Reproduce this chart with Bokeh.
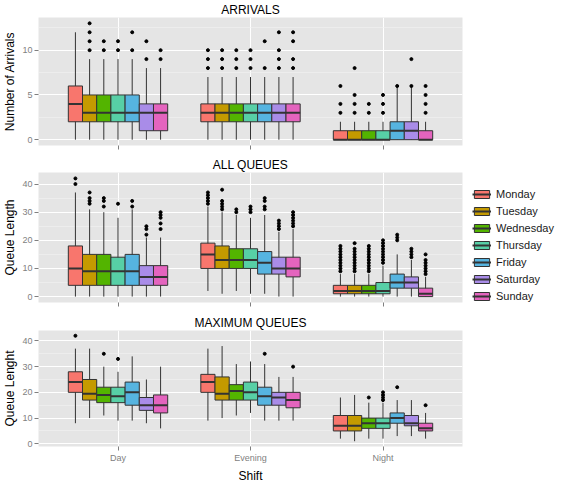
from bokeh.plotting import figure
from bokeh.models import (ColumnDataSource, FactorRange, Range1d, FixedTicker,
                          Legend, LegendItem)
from bokeh.transform import dodge
from bokeh.layouts import column
from bokeh.embed import file_html
from bokeh.resources import INLINE

SHIFTS = ["Day", "Evening", "Night"]
DAYS = ["Monday", "Tuesday", "Wednesday", "Thursday", "Friday", "Saturday", "Sunday"]
COLORS = ["#F8766D", "#C49A00", "#53B400", "#57CFA6", "#56B4E0", "#A98CE8", "#E464BE"]

# ---- ARRIVALS (rows: Day, Evening, Night; columns: Monday..Sunday)
arr_lo = [[0, 0, 0, 0, 0, 0, 0], [0, 0, 0, 0, 0, 0, 0], [0, 0, 0, 0, 0, 0, 0]]
arr_q1 = [[2, 2, 2, 2, 2, 1, 1], [2, 2, 2, 2, 2, 2, 2], [0, 0, 0, 0, 0, 0, 0]]
arr_med = [[4, 3, 3, 3, 3, 3, 3], [3, 3, 3, 3, 3, 3, 3], [0, 0, 0, 0, 1, 1, 0]]
arr_q3 = [[6, 5, 5, 5, 5, 4, 4], [4, 4, 4, 4, 4, 4, 4], [1, 1, 1, 1, 2, 2, 1]]
arr_hi = [[12, 9, 9, 9, 9, 8, 8], [7, 7, 7, 7, 7, 7, 7], [2, 2, 2, 2, 6, 6, 2]]
arr_out = [
    [[], [10, 11, 12, 13], [10, 11], [10, 11], [10, 12], [9, 11], [9, 10]],
    [[8, 9, 10], [8, 9, 10], [8, 9, 10], [8, 9, 10], [8, 11], [8, 9, 10, 12], [8, 9, 11, 12]],
    [[3, 4, 6], [3, 4, 5, 8], [3, 4], [3, 4, 5], [6], [6, 9], [3, 4, 5, 6]],
]

# ---- ALL QUEUES
allq_lo = [[0, 0, 0, 0, 0, 0, 0], [2, 1, 2, 1, 1, 0, 0], [0, 0, 0, 0, 0, 0, 0]]
allq_q1 = [[4, 4, 4, 4, 4, 4, 4], [10, 10, 10, 10, 8, 8, 7], [1, 1, 1, 1, 3, 3, 0]]
allq_med = [[10, 9, 9, 9, 9, 7, 7], [15, 13, 13, 13, 12, 10, 10], [2, 2, 2, 2, 5, 5, 1]]
allq_q3 = [[18, 15, 15, 14, 15, 11, 11], [19, 18, 17, 17, 16, 14, 14], [4, 4, 4, 5, 8, 7, 3]]
allq_hi = [[37, 31, 30, 28, 31, 21, 21], [32, 30, 29, 28, 29, 23, 24], [8, 8, 8, 11, 15, 13, 7]]
allq_out = [
    [[40, 42], [33, 34, 35, 37], [32, 34, 35], [33], [32, 34], [22, 24, 25], [24, 26, 28, 29, 30]],
    [[33, 34, 35, 36, 37], [31, 32, 33, 34, 38], [30, 31], [30, 31, 32], [31, 32, 34, 35],
     [24, 25, 26, 27], [25, 26, 27, 28, 29, 30]],
    [[9, 10, 11, 12, 13, 14, 15, 16, 17, 18], [9, 10, 11, 12, 13, 14, 15, 16, 17, 19],
     [9, 10, 11, 12, 13, 14, 15, 16, 17, 18], [12, 13, 14, 15, 16, 17, 18, 19, 20],
     [20, 21, 22], [14, 15, 16, 17], [8, 9, 10, 11, 12, 13, 15]],
]

# ---- MAXIMUM QUEUES
maxq_lo = [[8, 10, 11, 9, 9, 8, 6], [9, 10, 11, 12, 9, 9, 9], [2, 1, 2, 2, 3, 3, 2]]
maxq_q1 = [[20, 17, 16, 16, 15, 13, 12], [20, 17, 17, 17, 15, 15, 14], [5, 5, 6, 6, 8, 7, 5]]
maxq_med = [[24, 19.5, 19, 18.5, 20, 15, 15], [24, 19.5, 20.5, 20, 18.5, 18, 17], [7, 7, 8, 8, 10, 8, 6]]
maxq_q3 = [[28, 25, 22, 22, 24, 18, 19], [27, 26, 23, 24, 22, 20, 20], [11, 11, 10, 10, 12, 11, 8]]
maxq_hi = [[37, 37, 30, 28, 34, 25, 30], [37, 38, 31, 32, 31, 26, 26], [18, 19, 16, 16, 17, 17, 12]]
maxq_out = [
    [[42], [], [35], [33], [], [], []],
    [[], [], [], [], [35], [], [30]],
    [[], [], [18], [17, 18, 19, 20], [22], [], [15]],
]

FONT = "Liberation Sans"
TICK_GREY = "#7F7F7F"
EDGE = "#333333"
BOX_W = 0.75 / len(DAYS)


def make_panel(title, ylabel, lo, q1, med, q3, hi, out, yrange, yticks, yminor,
               frame_h, bottom_gap=0, show_x=False, with_legend=False):
    p = figure(x_range=FactorRange(factors=SHIFTS, range_padding=0.1,
                                   range_padding_units="absolute"),
               y_range=Range1d(*yrange), frame_width=424, frame_height=frame_h,
               output_backend="svg", toolbar_location=None,
               min_border_left=30, min_border_right=4, min_border_top=0,
               min_border_bottom=bottom_gap)
    p.background_fill_color = "#E5E5E5"
    p.border_fill_color = "white"
    p.outline_line_color = None

    p.title.text = title
    p.title.align = "center"
    p.title.text_font = FONT
    p.title.text_font_size = "12px"
    p.title.text_font_style = "normal"
    p.title.text_color = "black"
    p.title.standoff = 1

    yt = FixedTicker(ticks=yticks, minor_ticks=yminor)
    p.yaxis.ticker = yt
    p.ygrid.ticker = yt
    p.ygrid.grid_line_color = "white"
    p.ygrid.grid_line_width = 1
    p.ygrid.minor_grid_line_color = "#F2F2F2"
    p.ygrid.minor_grid_line_width = 0.6
    p.xgrid.grid_line_color = "white"
    p.xgrid.grid_line_width = 1

    for ax in (p.xaxis[0], p.yaxis[0]):
        ax.axis_line_color = None
        ax.major_tick_line_color = TICK_GREY
        ax.major_tick_out = 4
        ax.major_tick_in = 0
        ax.minor_tick_line_color = None
        ax.major_label_text_color = TICK_GREY
        ax.major_label_text_font = FONT
        ax.major_label_text_font_size = "9px"
        ax.major_label_standoff = 2
        ax.axis_label_text_font = FONT
        ax.axis_label_text_font_size = "12px"
        ax.axis_label_text_font_style = "normal"
        ax.axis_label_text_color = "black"
        ax.axis_label_standoff = 2
    p.yaxis.axis_label = ylabel
    if show_x:
        p.xaxis.axis_label = "Shift"
        p.xaxis.axis_label_standoff = 3
    else:
        # ticks only: tick labels are not painted in the upper panels
        p.xaxis.major_label_text_color = None
        p.xaxis.major_label_text_font_size = "1px"
        p.xaxis.major_label_standoff = 0

    items = []
    for i, day in enumerate(DAYS):
        off = (i - 3) * BOX_W
        src = ColumnDataSource(dict(
            shift=SHIFTS,
            lo=[lo[s][i] for s in range(3)],
            q1=[q1[s][i] for s in range(3)],
            med=[med[s][i] for s in range(3)],
            q3=[q3[s][i] for s in range(3)],
            hi=[hi[s][i] for s in range(3)],
        ))
        xc = dodge("shift", off, range=p.x_range)
        p.segment(x0=xc, y0="lo", x1=xc, y1="hi", source=src,
                  line_color=EDGE, line_width=1)
        br = p.vbar(x=xc, width=BOX_W, bottom="q1", top="q3", source=src,
                    fill_color=COLORS[i], line_color=EDGE, line_width=1)
        mr = p.segment(x0=dodge("shift", off - BOX_W / 2, range=p.x_range), y0="med",
                       x1=dodge("shift", off + BOX_W / 2, range=p.x_range), y1="med",
                       source=src, line_color=EDGE, line_width=2)
        ox, oy = [], []
        for s, sh in enumerate(SHIFTS):
            for v in out[s][i]:
                ox.append(sh)
                oy.append(v)
        osrc = ColumnDataSource(dict(x=ox, y=oy))
        p.scatter(x=dodge("x", off, range=p.x_range), y="y", source=osrc,
                  size=3, fill_color="black", line_color="black")
        items.append(LegendItem(label=day, renderers=[br, mr]))

    if with_legend:
        leg = Legend(items=items, location=(10, 0))
        leg.glyph_width = 19
        leg.glyph_height = 10
        leg.label_height = 10
        leg.spacing = 5
        leg.padding = 0
        leg.margin = 10
        leg.label_standoff = 5
        leg.border_line_color = None
        leg.background_fill_alpha = 0
        leg.label_text_font = FONT
        leg.label_text_font_size = "11px"
        leg.label_text_color = "#1a1a1a"
        p.add_layout(leg, "right")
    return p


p1 = make_panel("ARRIVALS", "Number of Arrivals", arr_lo, arr_q1, arr_med, arr_q3,
                arr_hi, arr_out, (-0.65, 13.65), [0, 5, 10], [2.5, 7.5, 12.5], 128,
                bottom_gap=10)
p2 = make_panel("ALL QUEUES", "Queue Length", allq_lo, allq_q1, allq_med, allq_q3,
                allq_hi, allq_out, (-2.1, 44.1), [0, 10, 20, 30, 40], [5, 15, 25, 35],
                130, bottom_gap=11, with_legend=True)
p3 = make_panel("MAXIMUM QUEUES", "Queue Lenght", maxq_lo, maxq_q1, maxq_med, maxq_q3,
                maxq_hi, maxq_out, (-1.05, 44.05), [0, 10, 20, 30, 40], [5, 15, 25, 35],
                116, show_x=True)

layout = column(p1, p2, p3)
open("out.html", "w").write(file_html(layout, INLINE))
